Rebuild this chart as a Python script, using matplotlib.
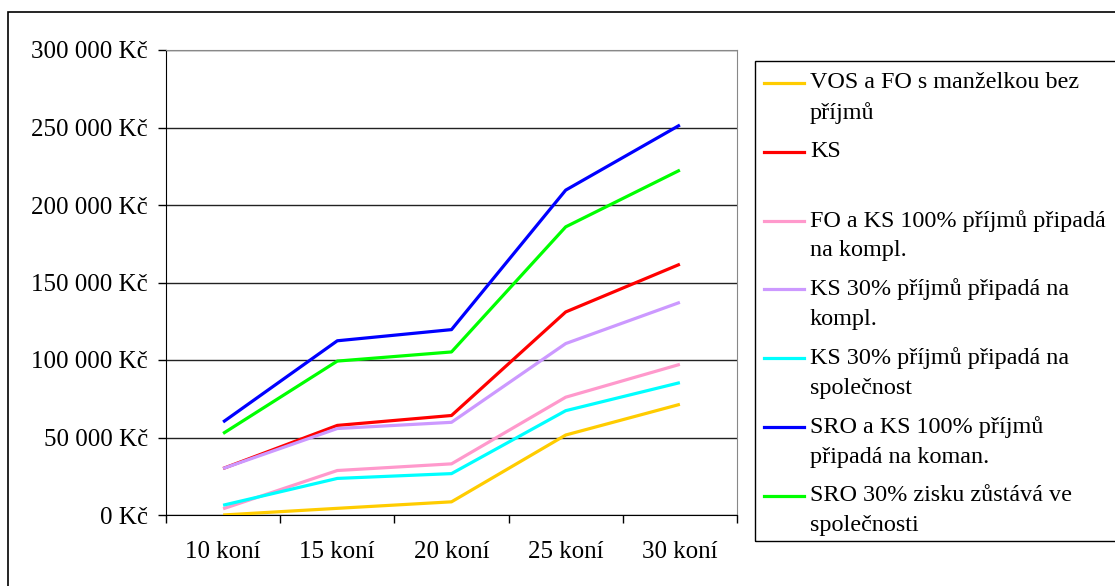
import matplotlib.pyplot as plt
from matplotlib.lines import Line2D
from matplotlib.patches import Rectangle
from matplotlib.ticker import FixedLocator, FuncFormatter

plt.rcParams['font.family'] = ['Liberation Serif', 'DejaVu Serif']

# DATA
categories = ["10 koní", "15 koní", "20 koní", "25 koní", "30 koní"]

vos_fo = [0, 4300, 8500, 51600, 71400]
ks = [30000, 57800, 64200, 131000, 161800]
fo_ks_100 = [4000, 28700, 33000, 76000, 97200]
ks_30_kompl = [30000, 55800, 59800, 110600, 137200]
ks_30_spol = [6300, 23600, 26700, 67300, 85400]
sro_ks_100 = [60000, 112400, 119600, 209600, 251600]
sro_30 = [52600, 99300, 105200, 185900, 222500]

series = [
    (["VOS a FO s manželkou bez", "příjmů"], vos_fo, "#FFCC00"),
    (["KS", ""], ks, "#FF0000"),
    (["FO a KS 100% příjmů připadá", "na kompl."], fo_ks_100, "#FF99CC"),
    (["KS 30% příjmů připadá na", "kompl."], ks_30_kompl, "#CC99FF"),
    (["KS 30% příjmů připadá na", "společnost"], ks_30_spol, "#00FFFF"),
    (["SRO a KS 100% příjmů", "připadá na koman."], sro_ks_100, "#0000FF"),
    (["SRO 30% zisku zůstává ve", "společnosti"], sro_30, "#00FF00"),
]

W, H = 1115, 586
fig = plt.figure(figsize=(W / 100, H / 100), dpi=100)
ax = fig.add_axes([166 / W, (H - 515) / H, (737 - 166) / W, (515 - 50) / H])

xs = [i + 0.5 for i in range(len(categories))]
for label, vals, col in series:
    ax.plot(xs, vals, color=col, lw=2.3, solid_capstyle='butt', zorder=3)

ax.set_xlim(0, len(categories))
ax.set_ylim(0, 300000)
ax.set_yticks(range(0, 300001, 50000))
ax.yaxis.set_major_formatter(FuncFormatter(
    lambda v, p: "{:,.0f} Kč".format(v).replace(",", " ")))
ax.grid(axis='y', color='#222222', lw=1.0, zorder=1)

ax.set_xticks(xs)
ax.set_xticklabels(categories)
ax.xaxis.set_minor_locator(FixedLocator(range(len(categories) + 1)))
ax.tick_params(axis='x', which='major', length=0, pad=19, labelsize=18)
ax.tick_params(axis='x', which='minor', length=6, width=1, direction='out')
ax.tick_params(axis='y', length=6, width=1, pad=7, labelsize=18)

for s in ['top', 'right']:
    ax.spines[s].set_color('#888888')
for s in ['left', 'bottom']:
    ax.spines[s].set_color('black')

# outer chart border
fig.patches.append(Rectangle((8 / W, -0.05), 1.1, (H - 12) / H + 0.05,
                             transform=fig.transFigure, fill=False,
                             edgecolor='black', lw=1.2))

# legend box
fig.patches.append(Rectangle((755 / W, (H - 541) / H), 400 / W, (541 - 61) / H,
                             transform=fig.transFigure, fill=False,
                             edgecolor='black', lw=1.0))
for i, (label, vals, col) in enumerate(series):
    y = 83 + i * 68.8
    fig.add_artist(Line2D([764 / W, 804 / W], [(H - y) / H] * 2, color=col, lw=2.3,
                          transform=fig.transFigure))
    fig.text(810 / W, (H - y) / H, label[0], fontsize=17.4, va='center', ha='left')
    if label[1]:
        fig.text(810 / W, (H - y - 30) / H, label[1], fontsize=17.4, va='center', ha='left')

fig.savefig("out.png", dpi=100)
